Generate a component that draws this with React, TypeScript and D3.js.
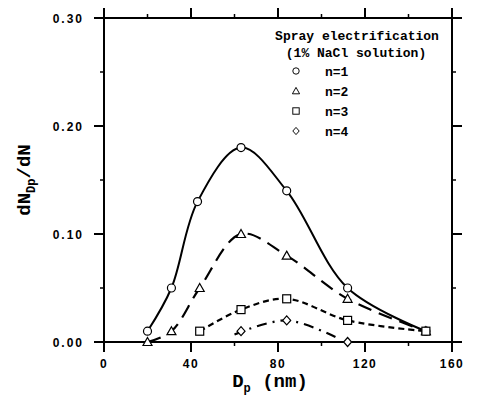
import React from 'react';
import { scaleLinear, line, curveCatmullRom, range } from 'd3';

// chart values
const n1X = [20, 31, 43, 63, 84, 112, 148];
const n1Y = [0.01, 0.05, 0.13, 0.18, 0.14, 0.05, 0.01];
const n2X = [20, 31, 44, 63, 84, 112, 148];
const n2Y = [0.0, 0.01, 0.05, 0.1, 0.08, 0.04, 0.01];
const n3X = [44, 63, 84, 112, 148];
const n3Y = [0.01, 0.03, 0.04, 0.02, 0.01];
const n4X = [63, 84, 112];
const n4Y = [0.01, 0.02, 0.0];
// fitted curve for n=4 stops short of the last point
const n4FitX = [60, 84, 107];
const n4FitY = [0.007, 0.02, 0.004];

const xTicks = [0, 40, 80, 120, 160];
const yTicks = [0, 0.1, 0.2, 0.3];
const legendLabels = ['n=1', 'n=2', 'n=3', 'n=4'];

const W = 479;
const H = 404;
const m = { left: 104, top: 18, right: 452, bottom: 342 };

const x = scaleLinear().domain([0, 160]).range([m.left, m.right]);
const y = scaleLinear().domain([0, 0.3]).range([m.bottom, m.top]);

const mono = '"Liberation Mono", "DejaVu Sans Mono", monospace';

const Marker = ({ kind, cx, cy }: { kind: number; cx: number; cy: number }) => {
  const s = { fill: 'white', stroke: 'black', strokeWidth: 1.2 };
  if (kind === 0) return <circle cx={cx} cy={cy} r={4} {...s} />;
  if (kind === 1)
    return <path d={`M${cx},${cy - 4.5}L${cx + 4.5},${cy + 3.5}L${cx - 4.5},${cy + 3.5}Z`} {...s} />;
  if (kind === 2) return <rect x={cx - 4} y={cy - 4} width={8} height={8} {...s} />;
  return <path d={`M${cx},${cy - 4.5}L${cx + 4},${cy}L${cx},${cy + 4.5}L${cx - 4},${cy}Z`} {...s} />;
};

const App = () => {
  const curve = line<[number, number]>()
    .x((d) => x(d[0]))
    .y((d) => y(d[1]))
    .curve(curveCatmullRom.alpha(0.5));

  const zip = (a: number[], b: number[]) => a.map((v, i) => [v, b[i]] as [number, number]);

  const series = [
    { pts: zip(n1X, n1Y), fit: zip(n1X, n1Y), dash: 'none' },
    { pts: zip(n2X, n2Y), fit: zip(n2X, n2Y), dash: '14,8' },
    { pts: zip(n3X, n3Y), fit: zip(n3X, n3Y), dash: '6,4' },
    { pts: zip(n4X, n4Y), fit: zip(n4FitX, n4FitY), dash: '10,6,2,6' },
  ];

  const xMinor = range(20, 160, 40);
  const yMinor = [0.05, 0.15, 0.25];

  return (
    <svg width={W} height={H} style={{ position: 'absolute', left: 0, top: 0, background: 'white' }}>
      {/* frame */}
      <rect x={m.left} y={m.top} width={m.right - m.left} height={m.bottom - m.top} fill="none" stroke="black" strokeWidth={2} />

      {/* x ticks, bottom and top */}
      {xTicks.map((t) => (
        <g key={'xt' + t}>
          <line x1={x(t)} x2={x(t)} y1={m.bottom} y2={m.bottom + 10} stroke="black" strokeWidth={2} />
          <line x1={x(t)} x2={x(t)} y1={m.top} y2={m.top - 10} stroke="black" strokeWidth={2} />
          <text x={x(t)} y={m.bottom + 26} textAnchor="middle" fontFamily="Arial, sans-serif" fontWeight="bold" fontSize={12} letterSpacing={1.5}>
            {t}
          </text>
        </g>
      ))}
      {xMinor.map((t) => (
        <g key={'xm' + t}>
          <line x1={x(t)} x2={x(t)} y1={m.bottom} y2={m.bottom + 4} stroke="black" strokeWidth={1.5} />
          <line x1={x(t)} x2={x(t)} y1={m.top} y2={m.top - 4} stroke="black" strokeWidth={1.5} />
        </g>
      ))}

      {/* y ticks, left and right */}
      {yTicks.map((t) => (
        <g key={'yt' + t}>
          <line x1={m.left} x2={m.left - 10} y1={y(t)} y2={y(t)} stroke="black" strokeWidth={2} />
          <line x1={m.right} x2={m.right + 10} y1={y(t)} y2={y(t)} stroke="black" strokeWidth={2} />
          <text x={m.left - 20} y={y(t) + 4.5} textAnchor="end" fontFamily="Arial, sans-serif" fontWeight="bold" fontSize={12} letterSpacing={2}>
            {t.toFixed(2)}
          </text>
        </g>
      ))}
      {yMinor.map((t) => (
        <g key={'ym' + t}>
          <line x1={m.left} x2={m.left - 4} y1={y(t)} y2={y(t)} stroke="black" strokeWidth={1.5} />
          <line x1={m.right} x2={m.right + 4} y1={y(t)} y2={y(t)} stroke="black" strokeWidth={1.5} />
        </g>
      ))}

      {/* curves */}
      {series.map((s, i) => (
        <path key={'c' + i} d={curve(s.fit) || ''} fill="none" stroke="black" strokeWidth={i === 0 ? 2 : 2.2} strokeDasharray={s.dash} />
      ))}
      {series.map((s, i) =>
        s.pts.map((p, j) => <Marker key={'m' + i + '-' + j} kind={i} cx={x(p[0])} cy={y(p[1])} />)
      )}

      {/* legend */}
      <text x={357} y={40} textAnchor="middle" fontFamily={mono} fontWeight="bold" fontSize={13}>
        Spray electrification
      </text>
      <text x={356} y={57} textAnchor="middle" fontFamily={mono} fontWeight="bold" fontSize={13}>
        (1% NaCl solution)
      </text>
      {legendLabels.map((l, i) => (
        <g key={'lg' + i} transform={`translate(0, ${71 + i * 20})`}>
          <g transform="translate(296,0) scale(0.8) translate(-296,0)">
            <Marker kind={i} cx={296} cy={0} />
          </g>
          <text x={325} y={4.5} fontFamily={mono} fontWeight="bold" fontSize={13}>
            {l}
          </text>
        </g>
      ))}

      {/* axis titles */}
      <text transform={`translate(30, 180) rotate(-90)`} textAnchor="middle" fontFamily={mono} fontWeight="bold" fontSize={19}>
        dN<tspan fontSize={12} dy={5}>Dp</tspan>
        <tspan dy={-5}>/dN</tspan>
      </text>
      <text x={270} y={387} textAnchor="middle" fontFamily={mono} fontWeight="bold" fontSize={19}>
        D<tspan fontSize={12} dy={5}>p</tspan>
        <tspan dy={-5}> (nm)</tspan>
      </text>
    </svg>
  );
};

export default App;
